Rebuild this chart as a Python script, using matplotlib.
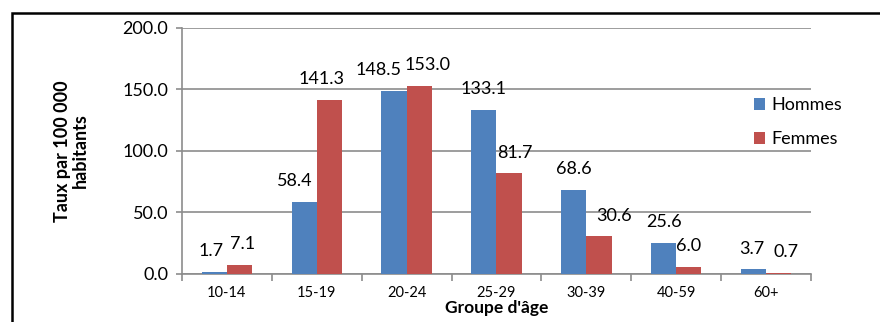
import numpy as np
import matplotlib.pyplot as plt
from matplotlib.patches import Rectangle

plt.rcParams['font.family'] = ['Lato', 'DejaVu Sans']

groupes = ['10-14', '15-19', '20-24', '25-29', '30-39', '40-59', '60+']
hommes = [1.7, 58.4, 148.5, 133.1, 68.6, 25.6, 3.7]
femmes = [7.1, 141.3, 153.0, 81.7, 30.6, 6.0, 0.7]
yticks = [0, 50, 100, 150, 200]

bleu = '#4F81BD'
rouge = '#C0504D'
gris = '#8C8C8C'

fig = plt.figure(figsize=(8.8, 3.22), dpi=100)
ax = fig.add_axes([0.2068, 0.1491, 0.7148, 0.764])

x = np.arange(len(groupes))
w = 0.28
b1 = ax.bar(x - w / 2, hommes, w, color=bleu, label='Hommes', zorder=3)
b2 = ax.bar(x + w / 2, femmes, w, color=rouge, label='Femmes', zorder=3)

# horizontal nudges (points) so neighbouring labels don't collide
decal_h = [-2, -7, -11, 0, 0, 0, -1]
decal_f = [2, -6, 6, 4, 11, 0, 5]
for bars, vals, dec in ((b1, hommes, decal_h), (b2, femmes, decal_f)):
    for rect, v, d in zip(bars, vals, dec):
        ax.annotate('%.1f' % v, (rect.get_x() + rect.get_width() / 2, v),
                    xytext=(d, 15), textcoords='offset points',
                    ha='center', va='center', fontsize=13, zorder=4)

ax.set_xlim(-0.5, len(groupes) - 0.5)
ax.set_ylim(0, 200)
ax.set_yticks(yticks)
ax.set_yticklabels(['%.1f' % t for t in yticks], fontsize=13)
ax.yaxis.grid(True, color=gris, linewidth=1.2, zorder=0)

# category labels centred, tick marks on the group boundaries
ax.set_xticks(x)
ax.set_xticklabels(groupes, fontsize=10.5)
ax.tick_params(axis='x', length=0, pad=9)
ax.set_xticks(np.arange(len(groupes) + 1) - 0.5, minor=True)
ax.tick_params(axis='x', which='minor', length=5, color=gris, width=1.2)
ax.tick_params(axis='y', length=4, color=gris, width=1.2, pad=6)

for s in ('top', 'right'):
    ax.spines[s].set_visible(False)
for s in ('left', 'bottom'):
    ax.spines[s].set_color(gris)
    ax.spines[s].set_linewidth(1.2)

ax.set_xlabel("Groupe d'âge", fontsize=12.5, fontweight='bold', labelpad=0)
ax.set_ylabel('Taux par 100 000\nhabitants', fontsize=13,
              fontweight='bold', labelpad=24, linespacing=1.05)

fig.legend(handles=[b1, b2], loc='center left', frameon=False,
           bbox_to_anchor=(0.857, 0.621), fontsize=13, handlelength=0.62,
           handleheight=0.62, handletextpad=0.35, labelspacing=1.0,
           borderpad=0, borderaxespad=0)

# black frame around the chart
fig.patches.append(Rectangle((12 / 880, -0.1), 1.0, 1.1 - 13 / 322,
                             transform=fig.transFigure, fill=False,
                             edgecolor='black', linewidth=1.8))

fig.savefig('out.png', dpi=100)
